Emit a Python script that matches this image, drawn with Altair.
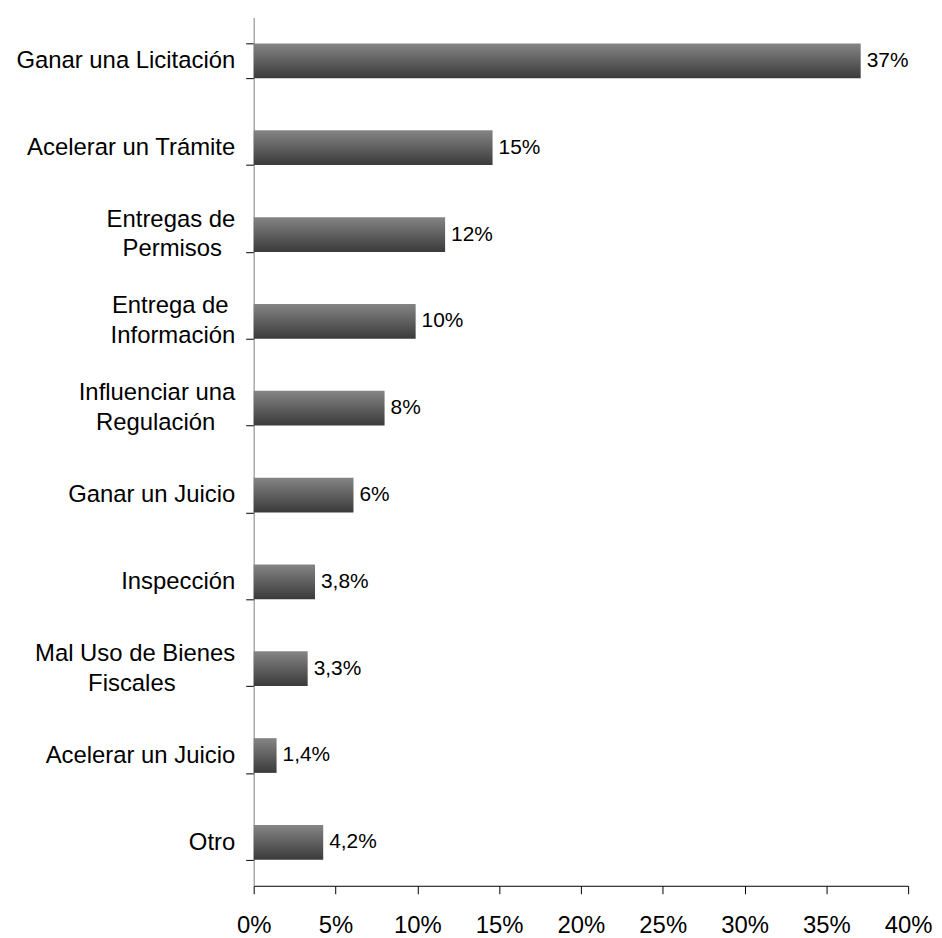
import altair as alt
import pandas as pd

NB = "\u00a0"
ZW = "\u200b"  # keeps the padding spaces from being trimmed

categories = [
    "Ganar una Licitación",
    "Acelerar un Trámite",
    "Entregas de|Permisos" + NB * 2 + ZW,
    "Entrega de" + NB + ZW + "|Información",
    "Influenciar una|Regulación" + NB * 3 + ZW,
    "Ganar un Juicio",
    "Inspección",
    "Mal Uso de Bienes|Fiscales" + NB * 9 + ZW,
    "Acelerar un Juicio",
    "Otro",
]
values = [37.1, 14.6, 11.7, 9.9, 8.0, 6.1, 3.75, 3.3, 1.4, 4.25]
value_labels = ["37%", "15%", "12%", "10%", "8%", "6%", "3,8%", "3,3%", "1,4%", "4,2%"]
x_ticks = [0, 5, 10, 15, 20, 25, 30, 35, 40]

df = pd.DataFrame({"cat": categories, "val": values, "label": value_labels})

FONT = "Liberation Sans"
y_scale = alt.Scale(paddingInner=0.6, paddingOuter=0.3)

IS_TWO = "length(split(datum.label, '|')) > 1"

# axis with the ticks, the line and the one-line labels
y_axis_main = alt.Axis(
    title=None,
    orient="left",
    labelExpr=IS_TWO + " ? '' : datum.label",
    tickBand="extent",
    labelFontSize=24,
    labelFont=FONT,
    labelColor="#000000",
    labelLimit=400,
    tickSize=8,
    labelPadding=11,
    domainColor="#7f7f7f",
    tickColor="#000000",
    grid=False,
)

# axis carrying only the two-line labels, block centred on the band
y_axis_two = alt.Axis(
    title=None,
    orient="left",
    labelExpr=IS_TWO + " ? split(datum.label, '|') : ''",
    labelBaseline="line-bottom",
    labelLineHeight=30,
    labelFontSize=24,
    labelFont=FONT,
    labelColor="#000000",
    labelLimit=400,
    ticks=False,
    domain=False,
    labelPadding=19,
    grid=False,
)

x_enc = alt.X(
    "val:Q",
    scale=alt.Scale(domain=[0, 40], nice=False),
    axis=alt.Axis(
        title=None,
        values=x_ticks,
        labelExpr="datum.value + '%'",
        labelFontSize=24,
        labelFont=FONT,
        labelColor="#000000",
        labelFlush=False,
        tickSize=8,
        labelPadding=20,
        domainColor="#000000",
        tickColor="#000000",
        grid=False,
    ),
)

grad = alt.Gradient(
    gradient="linear",
    stops=[
        alt.GradientStop(color="#858585", offset=0),
        alt.GradientStop(color="#3a3a3a", offset=1),
    ],
    x1=0, x2=0, y1=0, y2=1,
)

bars = alt.Chart(df).mark_bar(color=grad).encode(
    x=x_enc,
    y=alt.Y("cat:N", sort=categories, scale=y_scale, axis=y_axis_main),
)

text = alt.Chart(df).mark_text(
    align="left", baseline="middle", dx=6, fontSize=21, font=FONT, color="#000000"
).encode(
    x=alt.X("val:Q"),
    y=alt.Y("cat:N", sort=categories, scale=y_scale, axis=y_axis_two),
    text="label:N",
)

chart = (
    alt.layer(bars, text)
    .resolve_axis(y="independent")
    .properties(
        width=658,
        height=873,
        autosize=alt.AutoSizeParams(type="none"),
        padding={"left": 247, "top": 7, "right": 26, "bottom": 50},
    )
    .configure_view(stroke=None)
)

chart.save("out.html", embed_options={"renderer": "svg", "actions": False})
